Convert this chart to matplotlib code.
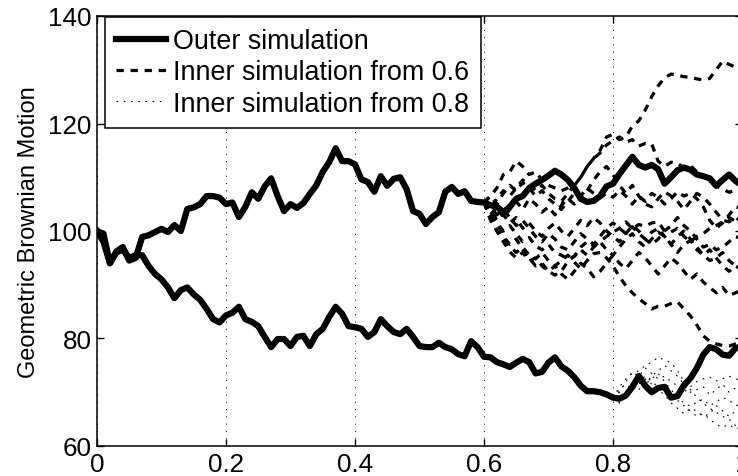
import numpy as np
import matplotlib
matplotlib.use("Agg")
import matplotlib.pyplot as plt

plt.rcParams['font.family'] = ['Liberation Sans', 'DejaVu Sans']

# ---------------- data ----------------
t_outer = np.linspace(0, 1, 101)
outer_upper = [100, 99.5, 94, 96.2, 97, 94.5, 95, 98.9, 99.2, 99.8,
               100.4, 99.8, 101.1, 100, 104.1, 104.4, 105, 106.5, 106.5, 106.2,
               105, 105.3, 102.6, 104.5, 107.2, 106, 108.3, 109.8, 106.5, 103.7,
               105, 104.3, 105.2, 106.9, 108.5, 111, 112.8, 115.4, 113, 113,
               112.4, 109.6, 109.1, 107.3, 110.2, 108.4, 109.7, 110, 107.8, 103.7,
               103.2, 101.3, 102.6, 103.5, 107.3, 108.2, 106.9, 107.4, 105.6, 105.4,
               105.3, 104.8, 104.5, 103.5, 104.5, 106, 106.5, 108, 108.8, 109.5,
               110.3, 111.2, 110.5, 109.5, 108, 106, 105.4, 105.6, 106.5, 108.3,
               108.8, 110.6, 112.2, 113.8, 112.3, 111.8, 112.3, 111.5, 108.8, 110,
               111.3, 111.8, 111.4, 110.5, 110.2, 109.8, 108.4, 109.5, 110.5, 109.3,
               108.5]
outer_lower = [100, 98, 94, 96, 96.5, 95, 95.5, 95.5, 93.5, 92,
               91, 89.5, 87.5, 89, 89.5, 88.2, 87.2, 85.5, 83.6, 83,
               84.3, 84.8, 85.9, 83.6, 83.1, 82.3, 80.3, 78.4, 79.9, 79.9,
               78.6, 80.3, 80.5, 78.6, 80.8, 81.8, 84, 85.9, 84.6, 82.3,
               82.1, 81.8, 80.3, 81.2, 83.6, 82.3, 81.2, 80.8, 81.8, 80.3,
               78.6, 78.4, 78.4, 79.2, 78.4, 78, 77.1, 76.7, 79.5, 78.4,
               76.6, 76.5, 75.6, 75.2, 74.7, 75.5, 76.2, 75.6, 73.5, 73.8,
               75.5, 76.5, 74.8, 74, 72.8, 71.2, 70.2, 70.2, 70, 69.6,
               69, 68.8, 69.4, 71, 73, 71.2, 70, 70.8, 71, 69,
               69.3, 71.3, 72.6, 74.5, 77, 78.4, 78, 77, 76.8, 78.2,
               78.6]

t_inner06 = np.linspace(0.6, 1, 41)
inner06 = [
    [105.3, 106.5, 108, 110.5, 111, 113, 112, 110.5, 111, 109.5, 108.5, 108, 107.5, 108, 108.5,
     110, 112, 113.5, 115, 117.5, 118, 117, 117.5, 119.5, 120.5, 122.5, 125, 127, 128.5, 129.2,
     129, 128.7, 128.6, 128.3, 128.1, 128.4, 130, 131.6, 131, 130.5, 129.8],
    [105.3, 104, 106, 107.5, 106.5, 108, 109.5, 108.8, 107.5, 108.5, 107, 106, 105.5, 107, 108.5,
     110, 112, 113.5, 114.5, 116, 116.8, 117.5, 116.5, 117, 115.8, 116.3, 116.2, 113, 112, 112.8,
     112.6, 111.8, 112.2, 111, 110.2, 109.5, 108.4, 107.8, 107.2, 107.6, 107.8],
    [105.3, 103, 104.5, 102.5, 104, 105.5, 104, 106, 105, 103.5, 104.5, 103, 104.8, 106, 105,
     106.5, 108, 107, 106.2, 107, 106.3, 107.5, 106.5, 105, 106.5, 105.5, 107, 106.3, 105, 106,
     107.3, 106.5, 107, 106, 104.5, 102, 100.5, 101.5, 103, 104.5, 104.2],
    [105.3, 103.5, 101.5, 100, 101, 99.5, 98, 98.8, 97.2, 96.5, 97.5, 96, 95.5, 94.8, 95.3,
     97, 98, 97.2, 98, 99, 99.8, 100.5, 101.7, 100.4, 101.2, 100.9, 101.5, 101.7, 100, 99.8,
     100.5, 99, 98, 99, 99.5, 100.5, 101, 101.7, 102.5, 101.8, 101.5],
    [105.3, 104, 102, 103, 101.5, 102.5, 100.5, 101.5, 100, 99, 100.5, 101.5, 100, 99, 100.5,
     102, 101, 102.5, 101.5, 100, 99, 98, 99.5, 101, 100, 98.5, 97.5, 98.5, 100, 101,
     102.5, 101, 100, 98.5, 97, 97.5, 96.5, 97, 98, 99, 98.5],
    [105.3, 102, 100, 98, 96.1, 95, 96, 94.4, 95, 93.5, 92.5, 91.8, 92.5, 94.4, 95.3,
     96.5, 95.5, 97, 98, 96.5, 95.5, 97, 98.5, 99.5, 98, 97, 98.5, 99.8, 99, 97.5,
     96, 97.5, 98.2, 97, 95.5, 94.5, 95, 96, 94.5, 93.5, 94],
    [105.3, 102.5, 100, 98.5, 97.2, 96, 97, 95.5, 94.8, 96, 94.5, 93.5, 94.5, 95.5, 94.2,
     93, 94.5, 95.8, 96, 95, 93.5, 91.5, 89.8, 88.5, 87.4, 86.5, 85.5, 86, 86, 86.5,
     86.8, 85.5, 84.2, 82.5, 80.5, 79.5, 79, 78.7, 78.6, 79, 79.3],
    [105.3, 103, 101.5, 99, 97.5, 98.5, 96.5, 95, 93.5, 94, 92.5, 93.5, 92, 91, 92.5,
     94, 93, 91.5, 92.5, 94, 95.5, 94, 93, 94.5, 96, 95, 93.5, 92, 93.5, 95,
     94, 92.5, 91, 92, 90.5, 89.5, 88.5, 89.5, 88, 88.5, 89],
    [105.3, 106.5, 105, 107, 108.5, 107.5, 109, 108, 106.5, 107.5, 106, 105, 104, 105.5, 107,
     106, 107.5, 109.5, 111, 112, 110.5, 108.5, 107, 108.5, 106.5, 105, 104.5, 106, 107.3, 106.5,
     105.5, 104, 105.5, 107, 106.3, 105, 103.5, 102, 101.7, 102.5, 101.7],
    [105.3, 104.5, 103, 104, 102.5, 101, 102, 100.5, 99, 98, 99.5, 98.5, 97, 96.5, 98,
     99.5, 98.5, 97.5, 99, 100.5, 101.5, 100.5, 99.5, 100.8, 99.5, 98.5, 99.8, 100.5, 99, 97.5,
     99, 100, 98.5, 96.5, 95.5, 96.5, 95, 93.5, 92.5, 93.5, 92.8],
]

t_inner08 = np.linspace(0.8, 1, 21)
inner08 = [
    [69, 71, 72.5, 73.5, 74, 75, 75.6, 76.5, 76, 75.5, 74, 72, 70.5, 69, 68, 67, 66.3, 65.5, 65, 63.8, 64.5],
    [69, 70, 72, 73.8, 73, 74.5, 73.5, 72.5, 73, 72, 71.2, 70, 71, 72, 72.5, 72.8, 72.1, 72.5, 73, 72.5, 72.1],
    [69, 68, 69.5, 71, 72.5, 71.5, 72.5, 73.5, 72, 70.5, 69, 68, 67.4, 68.2, 68.7, 67.5, 68.2, 69, 68.5, 67.5, 67.8],
    [69, 70.5, 71.5, 70.5, 72, 73, 72, 71, 70, 69, 68.5, 67.5, 66.5, 65.5, 66, 65, 64, 63.5, 64, 63.2, 63.5],
    [69, 68.5, 70, 71.5, 70.5, 71.5, 73, 74, 75, 74, 73, 71.5, 70, 70.5, 71, 69.5, 70.5, 71.5, 70, 70.8, 70.5],
    [69, 70, 69, 70.5, 71.5, 72.5, 71.5, 70.5, 69.5, 68, 67, 66, 67, 66.5, 65.5, 66, 67.5, 66.5, 65.5, 66.5, 66],
]

xticks = [0, 0.2, 0.4, 0.6, 0.8, 1]
xticklabels = ["0", "0.2", "0.4", "0.6", "0.8", "1"]
yticks = [60, 80, 100, 120, 140]
legend_labels = ["Outer simulation", "Inner simulation from 0.6", "Inner simulation from 0.8"]
ylabel = "Geometric Brownian Motion"

# ---------------- figure ----------------
W, H = 738, 477
fig = plt.figure(figsize=(W / 100, H / 100), dpi=100)
ax = fig.add_axes([97 / W, 30 / H, 645 / W, 430 / H])

FS = 18.7
LFS = 19.4
dash_style = (0, (2.3, 2.1))
dot_style = (0, (1.5, 5.0))

h_dash = None
for path in inner06:
    h_dash, = ax.plot(t_inner06, path, color='k', lw=2.3, ls=dash_style, zorder=2)
h_dot = None
for path in inner08:
    h_dot, = ax.plot(t_inner08, path, color='k', lw=0.8, ls=dot_style, zorder=2)
h_out, = ax.plot(t_outer, outer_upper, color='k', lw=4.5, solid_joinstyle='round', zorder=3)
ax.plot(t_outer, outer_lower, color='k', lw=4.5, solid_joinstyle='round', zorder=3)

ax.set_xlim(0, 1)
ax.set_ylim(60, 140)
ax.set_xticks(xticks)
ax.set_xticklabels(xticklabels)
ax.set_yticks(yticks)
ax.tick_params(direction='in', length=5, width=1, labelsize=FS, pad=4,
               top=True, right=True)
for s in ax.spines.values():
    s.set_linewidth(1.1)

ax.xaxis.grid(True, color='k', lw=0.7, ls=(0, (1, 6.5)))
ax.yaxis.grid(False)
ax.set_axisbelow(True)

ax.set_ylabel(ylabel, fontsize=17, labelpad=6)

leg = ax.legend([h_out, h_dash, h_dot], legend_labels, loc='upper left',
                bbox_to_anchor=(8 / 645, 1 - 1 / 430), borderaxespad=0,
                fontsize=LFS, frameon=True, fancybox=False, edgecolor='k',
                framealpha=1, handlelength=1.85, handletextpad=0.27,
                borderpad=0.42, labelspacing=0.19)
leg.get_frame().set_linewidth(1.1)

fig.savefig("out.png", dpi=100)
